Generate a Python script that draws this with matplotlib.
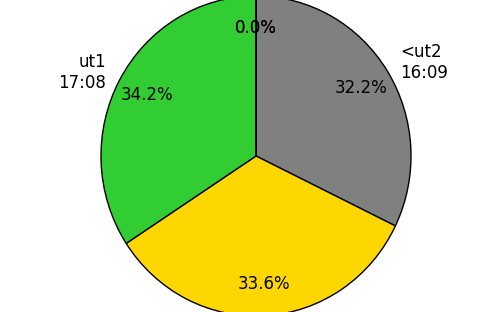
import matplotlib
matplotlib.use("Agg")
import matplotlib.pyplot as plt

labels = ["", "<ut2\n16:09", "", "ut1\n17:08", ""]
values = [0.0, 32.2, 33.6, 34.2, 0.0]
colors = ["#1f77b4", "#808080", "#FFD700", "#32CD32", "#ff7f0e"]

fig = plt.figure(figsize=(5, 3.12), dpi=100)
ax = fig.add_axes([0, 0, 1, 1])
ax.pie(values, labels=labels, colors=colors, autopct="%1.1f%%",
       startangle=90, counterclock=False, pctdistance=0.8,
       wedgeprops=dict(edgecolor="black", linewidth=1),
       textprops=dict(fontsize=12))
ax.set_aspect("auto")
ax.set_xlim(-256 / 155, 244 / 155)
ax.set_ylim(-0.975, 0.975)
ax.axis("off")
fig.savefig("out.png", dpi=100)
